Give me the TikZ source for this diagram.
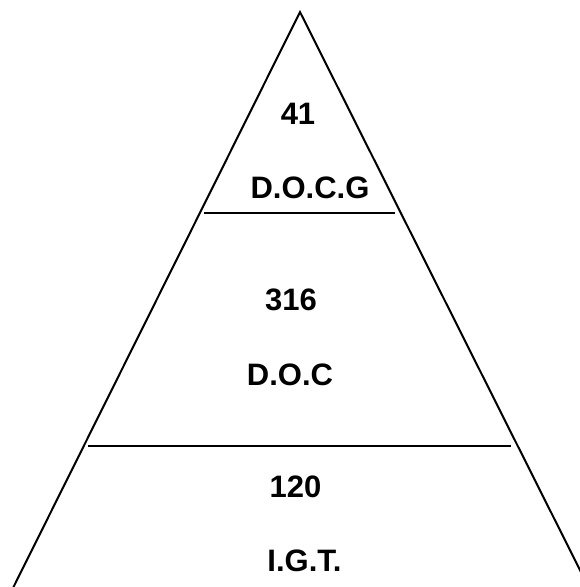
\documentclass[tikz,border=0pt]{standalone}
\usepackage{fontspec}
\setmainfont{Liberation Sans}
\begin{document}
\begin{tikzpicture}[x=1pt,y=-1pt,
  edge/.style={line width=2pt,black},
  lbl/.style={anchor=base,inner sep=0pt,font=\fontsize{31}{34}\selectfont\bfseries}]
\useasboundingbox (0,0) rectangle (580,587);
\clip (0,0) rectangle (580,587);
\coordinate (apex) at (300,12);
\coordinate (bl) at (13,588);
\coordinate (br) at (589,588);
\draw[edge,line join=miter] (bl) -- (apex) -- (br);
\coordinate (l1a) at (204,212.5);
\coordinate (l1b) at (395,212.5);
\coordinate (l2a) at (88,446);
\coordinate (l2b) at (511,446);
\draw[edge] (l1a) -- (l1b);
\draw[edge] (l2a) -- (l2b);
\node[lbl] (n41) at (298,124) {41};
\node[lbl] (docg) at (310,198) {D.O.C.G};
\node[lbl] (n316) at (291,310) {316};
\node[lbl] (doc) at (290,385) {D.O.C};
\node[lbl] (n120) at (295.5,497) {120};
\node[lbl] (igt) at (304.5,571) {I.G.T.};
\end{tikzpicture}
\end{document}
